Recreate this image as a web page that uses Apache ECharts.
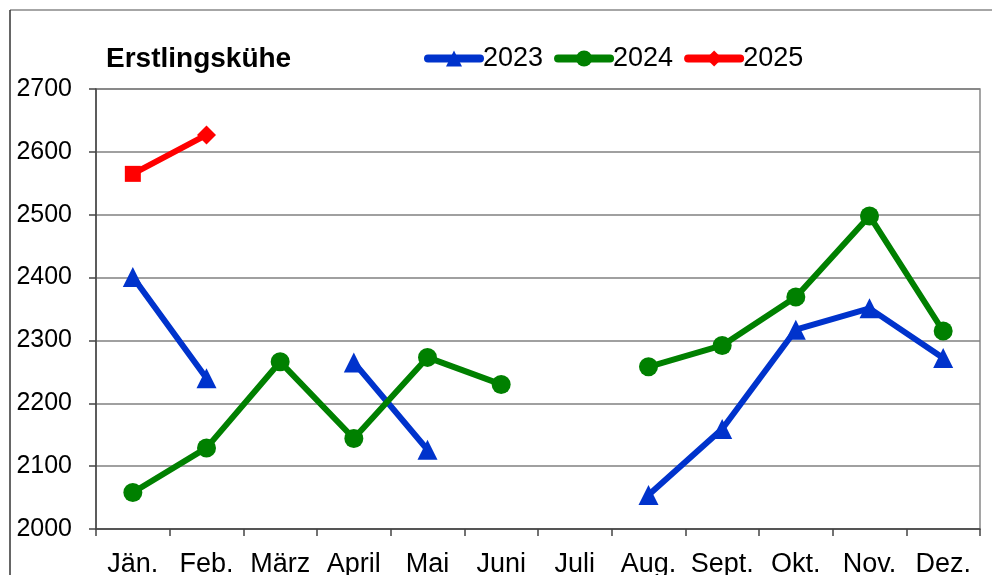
<!DOCTYPE html>
<html>
<head>
<meta charset="utf-8">
<script src="https://cdn.jsdelivr.net/npm/echarts@6/dist/echarts.min.js"></script>
<style>
html,body{margin:0;padding:0;background:#fff;}
#chart{width:992px;height:575px;}
</style>
</head>
<body>
<div id="chart"></div>
<script>
const titleText = 'Erstlingskühe';
const months = ['Jän.', 'Feb.', 'März', 'April', 'Mai', 'Juni', 'Juli', 'Aug.', 'Sept.', 'Okt.', 'Nov.', 'Dez.'];
const seriesNames = ['2023', '2024', '2025'];
const values2023 = [2401, 2240, null, 2265, 2126, null, null, 2054, 2159, 2317, 2351, 2272];
const values2024 = [2058, 2129, 2266, 2144, 2273, 2230, null, 2258, 2292, 2369, 2498, 2315];
const values2025 = [2565, 2627, null, null, null, null, null, null, null, null, null, null];
const yMin = 2000, yMax = 2700, yStep = 100;

const FONT = '"Liberation Sans", Arial, sans-serif';
const chart = echarts.init(document.getElementById('chart'), null, {renderer: 'canvas'});

function lineSeries(name, data, color, symbol, size) {
  return {
    name: name,
    type: 'line',
    data: data,
    connectNulls: false,
    symbol: symbol,
    symbolSize: size,
    showAllSymbol: true,
    lineStyle: {color: color, width: 6, cap: 'round'},
    itemStyle: {color: color},
    emphasis: {disabled: true},
    animation: false
  };
}

const s2025 = lineSeries(seriesNames[2],
  values2025.map((v, i) => i === 0 && v != null ? {value: v, symbol: 'rect', symbolSize: 16} : v),
  '#FF0000', 'diamond', 19);

chart.setOption({
  backgroundColor: '#fff',
  animation: false,
  title: {
    text: titleText,
    left: 106, top: 45, padding: 0,
    textStyle: {fontFamily: FONT, fontWeight: 'bold', fontSize: 28, color: '#000'}
  },
  legend: {
    left: 424, top: 45, padding: 0,
    itemWidth: 52, itemHeight: 20, itemGap: 11,
    lineStyle: {width: 8, cap: 'round'},
    textStyle: {fontFamily: FONT, fontSize: 27, color: '#000', padding: [0, 0, 0, -2]},
    data: seriesNames
  },
  graphic: [
    {type: 'line', shape: {x1: 10, y1: 10, x2: 992, y2: 10}, style: {stroke: '#888', lineWidth: 1.5}},
    {type: 'line', shape: {x1: 10, y1: 10, x2: 10, y2: 575}, style: {stroke: '#333', lineWidth: 1.5}}
  ],
  grid: {
    left: 96, right: 12, top: 89, bottom: 46,
    containLabel: false, outerBoundsMode: 'none',
    show: true, borderColor: '#888', borderWidth: 1.5, backgroundColor: 'transparent'
  },
  xAxis: {
    type: 'category',
    data: months,
    boundaryGap: true,
    axisLine: {lineStyle: {color: '#444', width: 1.5}},
    axisTick: {show: true, length: 7, inside: false, alignWithLabel: false, lineStyle: {color: '#444', width: 1.5}},
    axisLabel: {interval: 0, margin: 22, fontFamily: FONT, fontSize: 27, color: '#000'},
    splitLine: {show: false}
  },
  yAxis: {
    type: 'value',
    min: yMin, max: yMax, interval: yStep,
    axisLine: {show: true, lineStyle: {color: '#444', width: 1.5}},
    axisTick: {show: true, length: 7, lineStyle: {color: '#444', width: 1.5}},
    axisLabel: {margin: 24, fontFamily: FONT, fontSize: 25, color: '#000', formatter: v => String(v)},
    splitLine: {show: true, lineStyle: {color: '#808080', width: 1.5}}
  },
  series: [
    lineSeries(seriesNames[0], values2023, '#0033CC', 'triangle', 20),
    lineSeries(seriesNames[1], values2024, '#008000', 'circle', 19),
    s2025
  ]
});
</script>
</body>
</html>
